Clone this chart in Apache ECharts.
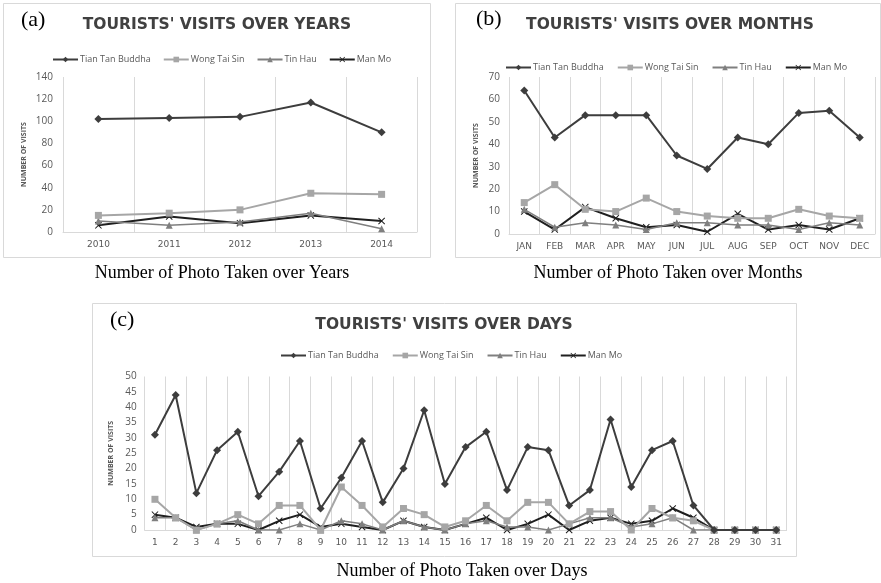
<!DOCTYPE html>
<html>
<head>
<meta charset="utf-8">
<script src="https://cdn.jsdelivr.net/npm/echarts@6/dist/echarts.min.js"></script>
<style>
  html, body { margin: 0; padding: 0; background: #fff; }
  #chart { width: 881px; height: 583px; }
</style>
</head>
<body>
<div id="chart"></div>
<script>
// categories
const years = ["2010", "2011", "2012", "2013", "2014"];
const months = ["JAN", "FEB", "MAR", "APR", "MAY", "JUN", "JUL", "AUG", "SEP", "OCT", "NOV", "DEC"];
const days = ["1","2","3","4","5","6","7","8","9","10","11","12","13","14","15","16",
  "17","18","19","20","21","22","23","24","25","26","27","28","29","30","31"];

// (a) visits over years
const yearTianTan = [102, 103, 104, 117, 90];
const yearWongTaiSin = [15, 17, 20, 35, 34];
const yearTinHau = [10, 6, 9, 17, 3];
const yearManMo = [6, 14, 8, 15, 10];

// (b) visits over months
const monthTianTan = [64, 43, 53, 53, 53, 35, 29, 43, 40, 54, 55, 43];
const monthWongTaiSin = [14, 22, 11, 10, 16, 10, 8, 7, 7, 11, 8, 7];
const monthTinHau = [11, 3, 5, 4, 2, 5, 5, 4, 4, 2, 5, 4];
const monthManMo = [10, 2, 12, 7, 3, 4, 1, 9, 2, 4, 2, 7];

// (c) visits over days
const dayTianTan = [31, 44, 12, 26, 32, 11, 19, 29, 7, 17, 29, 9, 20, 39, 15, 27,
  32, 13, 27, 26, 8, 13, 36, 14, 26, 29, 8, 0, 0, 0, 0];
const dayWongTaiSin = [10, 4, 0, 2, 5, 2, 8, 8, 0, 14, 8, 1, 7, 5, 1, 3,
  8, 3, 9, 9, 2, 6, 6, 0, 7, 4, 3, 0, 0, 0, 0];
const dayTinHau = [4, 4, 0, 2, 3, 0, 0, 2, 0, 3, 2, 0, 3, 1, 0, 2,
  3, 1, 1, 0, 2, 4, 4, 1, 2, 4, 0, 0, 0, 0, 0];
const dayManMo = [5, 4, 1, 2, 2, 0, 3, 5, 1, 2, 1, 0, 3, 1, 0, 2,
  4, 0, 2, 5, 0, 3, 4, 2, 3, 7, 4, 0, 0, 0, 0];

const names = ["Tian Tan Buddha", "Wong Tai Sin", "Tin Hau", "Man Mo"];

// X marker for Man Mo
const crossPath = "path://M1,0L5,4L9,0L10,1L6,5L10,9L9,10L5,6L1,10L0,9L4,5L0,1Z";
const styles = [
  { color: "#3d3d3d", symbol: "diamond", size: 8, width: 2 },
  { color: "#a6a6a6", symbol: "rect", size: 7, width: 2 },
  { color: "#7f7f7f", symbol: "triangle", size: 7, width: 1.5 },
  { color: "#1f1f1f", symbol: crossPath, size: 7, width: 2 }
];

const labelColor = "#595959";
const gridColor = "#d9d9d9";

function makeSeries(idx, data, name) {
  const s = styles[name];
  return {
    name: names[name],
    type: "line",
    xAxisIndex: idx,
    yAxisIndex: idx,
    data: data,
    symbol: s.symbol,
    symbolSize: s.size,
    showAllSymbol: true,
    itemStyle: { color: s.color },
    lineStyle: { color: s.color, width: s.width },
    z: 10 - name
  };
}

function xAxis(idx, cats) {
  return {
    type: "category",
    gridIndex: idx,
    data: cats,
    boundaryGap: true,
    axisTick: { show: false },
    axisLine: { lineStyle: { color: gridColor } },
    splitLine: { show: true, lineStyle: { color: gridColor } },
    axisLabel: { color: labelColor, fontSize: 9, fontFamily: "DejaVu Sans", margin: 8, interval: 0 }
  };
}

function yAxis(idx, max, step, gap, margin) {
  return {
    type: "value",
    gridIndex: idx,
    min: 0,
    max: max,
    interval: step,
    axisLine: { show: false },
    axisTick: { show: false },
    splitLine: { show: false },
    axisLabel: { color: labelColor, fontSize: 10, fontFamily: "Open Sans", margin: margin },
    name: "NUMBER OF VISITS",
    nameLocation: "middle",
    nameRotate: 90,
    nameGap: gap,
    nameTextStyle: { color: labelColor, fontSize: 7, fontFamily: "Open Sans", fontWeight: "bold" }
  };
}

function legend(left, top, gap) {
  return {
    data: names,
    left: left,
    top: top,
    itemWidth: 25,
    itemHeight: 7,
    itemGap: gap,
    selectedMode: false,
    textStyle: { color: labelColor, fontSize: 9, fontFamily: "Open Sans", padding: [0, 0, 0, -3] }
  };
}

function titleText(x, y, text) {
  return {
    type: "text",
    style: {
      x: x, y: y, text: text,
      fill: "#404040",
      font: "bold 15.5px 'DejaVu Sans'",
      textAlign: "center", textVerticalAlign: "middle"
    }
  };
}

function serifText(x, y, text, size, align) {
  return {
    type: "text",
    style: {
      x: x, y: y, text: text,
      fill: "#000",
      font: size + "px 'Liberation Serif'",
      textAlign: align, textVerticalAlign: "middle"
    }
  };
}

function box(x, y, w, h) {
  return {
    type: "rect",
    shape: { x: x + 0.5, y: y + 0.5, width: w, height: h },
    style: { fill: "#fff", stroke: gridColor, lineWidth: 1 },
    z: -10
  };
}

const chart = echarts.init(document.getElementById("chart"));

chart.setOption({
  backgroundColor: "#fff",
  animation: false,
  grid: [
    { left: 63, top: 77, width: 354, height: 155 },
    { left: 509, top: 77, width: 366, height: 157 },
    { left: 144.6, top: 376.5, width: 642, height: 153.5 }
  ],
  xAxis: [xAxis(0, years), xAxis(1, months), xAxis(2, days)],
  yAxis: [yAxis(0, 140, 20, 36, 10), yAxis(1, 70, 10, 30, 9), yAxis(2, 50, 5, 30, 8)],
  legend: [legend(47, 50, 12), legend(500, 58, 13), legend(275, 346, 13)],
  series: [
    makeSeries(0, yearTianTan, 0), makeSeries(0, yearWongTaiSin, 1),
    makeSeries(0, yearTinHau, 2), makeSeries(0, yearManMo, 3),
    makeSeries(1, monthTianTan, 0), makeSeries(1, monthWongTaiSin, 1),
    makeSeries(1, monthTinHau, 2), makeSeries(1, monthManMo, 3),
    makeSeries(2, dayTianTan, 0), makeSeries(2, dayWongTaiSin, 1),
    makeSeries(2, dayTinHau, 2), makeSeries(2, dayManMo, 3)
  ],
  graphic: [
    box(3, 3, 427, 254),
    box(455, 3, 425, 254),
    box(92, 303, 704, 253),
    serifText(21, 20, "(a)", 22, "left"),
    serifText(476, 19, "(b)", 22, "left"),
    serifText(110, 320, "(c)", 22, "left"),
    titleText(217, 25, "TOURISTS' VISITS OVER YEARS"),
    titleText(670, 25, "TOURISTS' VISITS OVER MONTHS"),
    titleText(444, 325, "TOURISTS' VISITS OVER DAYS"),
    serifText(222, 273, "Number of Photo Taken over Years", 18, "center"),
    serifText(668, 273, "Number of Photo Taken over Months", 18, "center"),
    serifText(462, 571, "Number of Photo Taken over Days", 18, "center")
  ]
});
</script>
</body>
</html>
